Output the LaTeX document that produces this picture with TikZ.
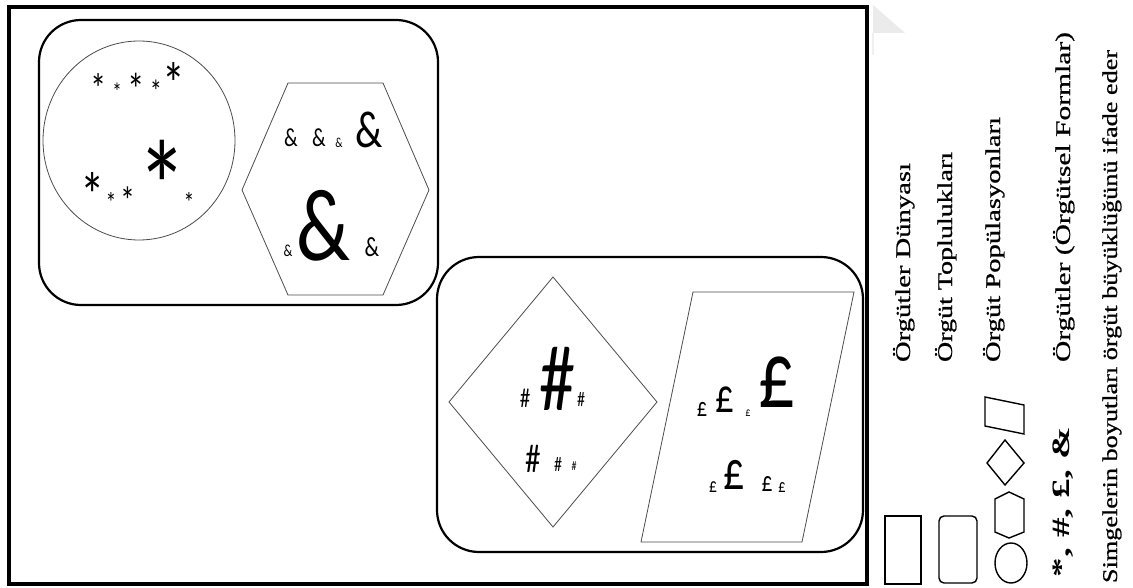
\documentclass[tikz,border=0pt]{standalone}
\usepackage{fontspec}
\usepackage{graphicx}
\setmainfont{Liberation Serif}
\newfontfamily\symfont{Carlito}
\newfontfamily\legfont[FakeBold=0.7]{Liberation Serif}
\newcommand\sy[2]{\scalebox{1}[1.3]{\fontsize{#1}{#1}\selectfont\symfont #2}}
\newcommand\mystar[1]{{\fontsize{#1}{#1}\selectfont\symfont\scalebox{1}[1.3]{\raisebox{0pt}[\height][-0.4em]{*}}}}
\newcommand\legtext[2]{\resizebox{#1pt}{\height}{\fontsize{21}{23}\selectfont\legfont #2}}
\tikzset{
  frame/.style={line width=3.6pt},
  group/.style={line width=2.2pt, rounded corners=42pt},
  inner/.style={line width=0.8pt, draw=black!70},
  legshape/.style={line width=1.4pt},
  sym/.style={anchor=north, inner sep=0pt, outer sep=0pt},
  leg/.style={rotate=90, anchor=base west, inner sep=0pt, outer sep=0pt},
}
\begin{document}
\begin{tikzpicture}[x=1pt,y=-1pt]
\useasboundingbox[fill=white] (0,0) rectangle (1133,588);
% page corner
\fill[black!8] (873,5) -- (905,33) -- (873,33) -- cycle;
\draw[black!6, line width=1.5pt] (873,33) -- (873,55);
% frame
\draw[frame] (9,7) rectangle (867,584);
% groups
\draw[group] (39,20) rectangle (438,305);
\draw[group] (437,257) rectangle (863,552);
% populations
\draw[inner] (139,140.5) ellipse [x radius=96, y radius=99.5];
\draw[inner] (242,190) -- (288,83) -- (383,83) -- (429,190) -- (383,295) -- (288,295) -- cycle;
\draw[inner] (553,277) -- (657,402) -- (553,527) -- (449,402) -- cycle;
\draw[inner] (693,292) -- (854,292) -- (802,542) -- (641,542) -- cycle;
% symbols
\foreach \x/\y/\s [count=\i] in {99/74/32.5, 117/83/19, 136/73/35, 156/80/24.4, 174/63/45.5, 162/140/100, 93/172/48.8, 111/192/21.7, 128/187/30, 189/192/21.7}
  \node[sym] (k\i) at (\x,\y) {\mystar{\s}};
\foreach \x/\y/\s [count=\i] in {291/129/20, 319/129/20, 339/138/10.6, 369/112/40, 288/245/13, 323/190/79, 372/238/21.3}
  \node[sym] (a\i) at (\x,\y) {\sy{\s}{\&}};
\foreach \x/\y/\s [count=\i] in {525/389/21, 557/347/72, 581/392/16, 533/445/31, 558/457/16, 574/462/10}
  \node[sym] (h\i) at (\x,\y) {\sy{\s}{\#}};
\foreach \x/\y/\s [count=\i] in {702/402/20.4, 725/387/37, 748/410/9.6, 777/357/73, 713/482/15.6, 734/460/42, 767/477/21.6, 782/483/14.4}
  \node[sym] (p\i) at (\x,\y) {\sy{\s}{£}};
% legend shapes
\draw[legshape] (885,516) rectangle (921,584);
\draw[legshape, rounded corners=5pt] (939,516) rectangle (977,583);
\draw[legshape] (1011,563) ellipse [x radius=16, y radius=20];
\draw[legshape] (1009,492) -- (1024,499) -- (1024,532) -- (1009,538) -- (995,532) -- (995,499) -- cycle;
\draw[legshape] (1005,440) -- (1024,463) -- (1005,485) -- (987,463) -- cycle;
\draw[legshape] (985,397) -- (1024,405) -- (1024,434) -- (985,426) -- cycle;
% legend texts
\node[leg] (l1) at (910,362) {\legtext{199}{Örgütler Dünyası}};
\node[leg] (l2) at (952,362) {\legtext{210}{Örgüt Toplulukları}};
\node[leg] (l3) at (1000,362) {\legtext{245}{Örgüt Popülasyonları}};
\node[leg] (l4) at (1070,362) {\legtext{330}{Örgütler (Örgütsel Formlar)}};
\node[leg] (l5) at (1117,583) {\legtext{533}{Simgelerin boyutları örgüt büyüklüğünü ifade eder}};
\node[leg] (l6) at (1069,577) {\resizebox{150pt}{\height}{\fontsize{25}{27}\selectfont\bfseries *, \#, £, \&}};
\end{tikzpicture}
\end{document}
